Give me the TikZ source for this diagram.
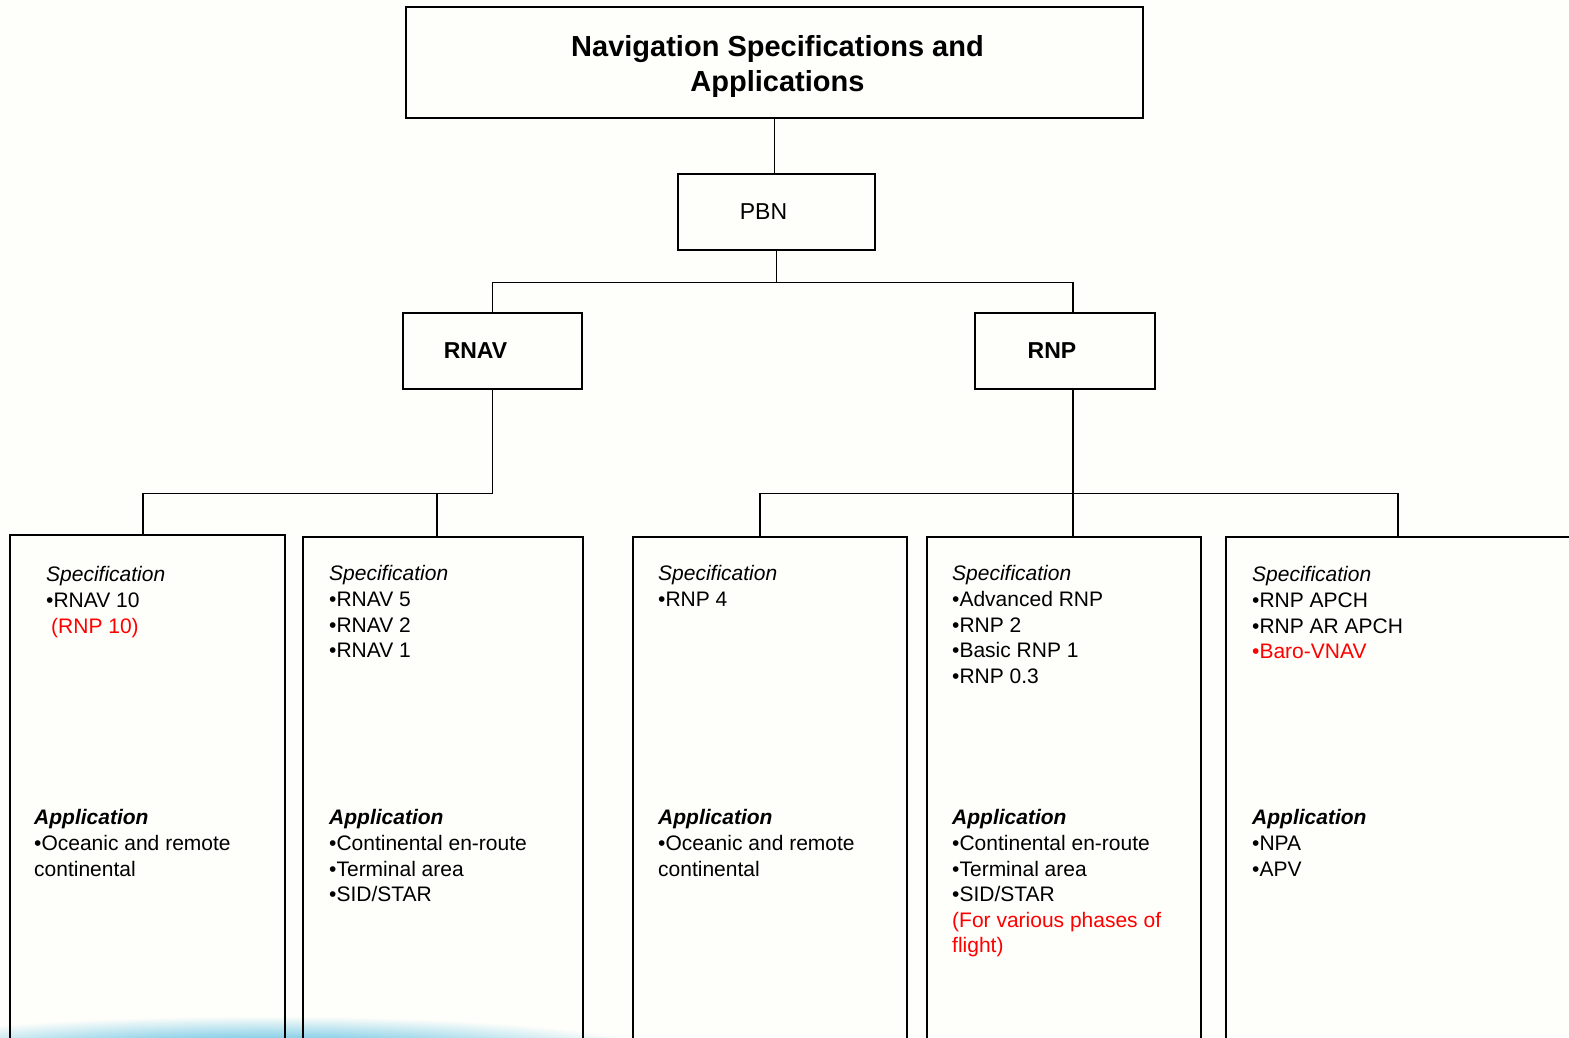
\documentclass[tikz,border=0pt]{standalone}
\usepackage{fontspec}
\setmainfont{Liberation Sans}
\usetikzlibrary{positioning}
\definecolor{pagebg}{RGB}{254,254,250}
\definecolor{glowblue}{RGB}{30,165,215}
\definecolor{notered}{RGB}{255,0,0}

\begin{document}
\begin{tikzpicture}[x=1pt, y=-1pt,
		box/.style={draw, line width=2.8pt, inner sep=0pt},
		link/.style={line width=1.4pt},
		body/.style={anchor=north west, inner sep=0pt, align=left, font=\fontsize{21}{25.6}\selectfont},
		boxlabel/.style={font=\fontsize{23}{27}\selectfont},
		boldlabel/.style={font=\fontsize{23}{27}\selectfont\bfseries},
	]
	\useasboundingbox (0,0) rectangle (1569,1037);
	\clip (0,0) rectangle (1569,1037);
	\fill[pagebg] (0,0) rectangle (1569,1037);
	\shade[inner color=glowblue, outer color=pagebg] (262,1058) ellipse [x radius=420, y radius=42];

	% tree heads
	\node[box, minimum width=737pt, minimum height=111pt] (title) at (774.5,62.5) {};
	\node[align=center, font=\fontsize{29}{35}\selectfont\bfseries] at ([xshift=3pt, yshift=-4pt]title.center) {Navigation Specifications and\\Applications};
	\node[box, minimum width=197pt, minimum height=76pt] (pbn) at (776.5,212) {};
	\node[boxlabel] at ([xshift=-13pt]pbn.center) {PBN};
	\node[box, minimum width=179pt, minimum height=76pt] (rnav) at (492.5,351) {};
	\node[boldlabel] at ([xshift=-17pt]rnav.center) {RNAV};
	\node[box, minimum width=180pt, minimum height=76pt] (rnp) at (1065,351) {};
	\node[boldlabel] at ([xshift=-13pt]rnp.center) {RNP};

	% specification boxes
	\node[box, minimum width=275pt, minimum height=525pt] (b1) at (147.5,797.5) {};
	\node[box, minimum width=280pt, minimum height=523pt] (b2) at (443,798.5) {};
	\node[box, minimum width=274pt, minimum height=523pt] (b3) at (770,798.5) {};
	\node[box, minimum width=274pt, minimum height=523pt] (b4) at (1064,798.5) {};
	\node[box, minimum width=374pt, minimum height=523pt] (b5) at (1413,798.5) {};

	% connectors
	\draw[link] (title.south) -- (title.south |- pbn.north);
	\draw[link] (pbn.south) -- ++(0,31) coordinate (pbnbus);
	\draw[link] (rnav.north) |- (pbnbus) -| ([xshift=8pt]rnp.north);
	\draw[link] (rnav.south) -- ++(0,103) coordinate (rnavbus);
	\draw[link] ([xshift=-4.5pt]b1.north) |- (rnavbus);
	\draw[link] ([xshift=-6pt]b2.north) -- ([xshift=-6pt]b2.north |- rnavbus);
	\draw[link] ([xshift=8pt]rnp.south) -- ([xshift=9pt]b4.north);
	\draw[link] ([xshift=-10pt]b3.north) |- ([xshift=-15pt]b5.north |- rnavbus) -- ([xshift=-15pt]b5.north);

	% box texts
	\node[body] (spec1) at (46,566.5) {\textit{Specification}\\•RNAV 10\\\hspace{5pt}\textcolor{notered}{(RNP 10)}};
	\node[body] (appl1) at (34,809.5) {\textbf{\textit{Application}}\\•Oceanic and remote\\continental};
	\node[body] (spec2) at (329,565.5) {\textit{Specification}\\•RNAV 5\\•RNAV 2\\•RNAV 1};
	\node[body] (appl2) at (329,809.5) {\textbf{\textit{Application}}\\•Continental en-route\\•Terminal area\\•SID/STAR};
	\node[body] (spec3) at (658,565.5) {\textit{Specification}\\•RNP 4};
	\node[body] (appl3) at (658,809.5) {\textbf{\textit{Application}}\\•Oceanic and remote\\continental};
	\node[body] (spec4) at (952,565.5) {\textit{Specification}\\•Advanced RNP\\•RNP 2\\•Basic RNP 1\\•RNP 0.3};
	\node[body] (appl4) at (952,809.5) {\textbf{\textit{Application}}\\•Continental en-route\\•Terminal area\\•SID/STAR\\\textcolor{notered}{(For various phases of}\\\textcolor{notered}{flight)}};
	\node[body] (spec5) at (1252,566.5) {\textit{Specification}\\•RNP APCH\\•RNP AR APCH\\\textcolor{notered}{•Baro-VNAV}};
	\node[body] (appl5) at (1252,809.5) {\textbf{\textit{Application}}\\•NPA\\•APV};
\end{tikzpicture}
\end{document}
